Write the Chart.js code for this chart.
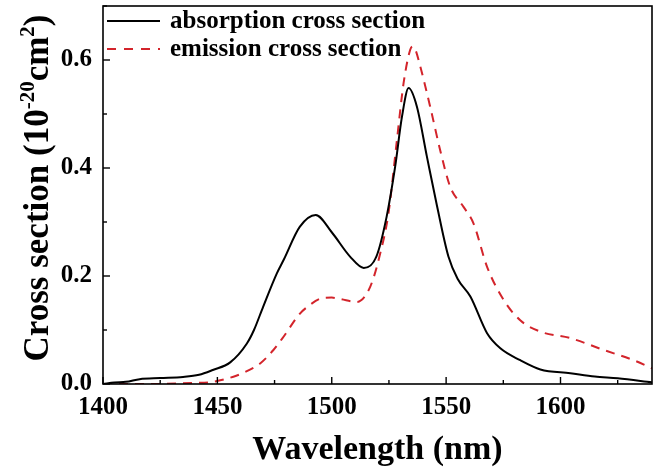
<!DOCTYPE html>
<html>
<head>
<meta charset="utf-8">
<script src="https://cdn.jsdelivr.net/npm/chart.js@4.4.0/dist/chart.umd.min.js"></script>
<style>
  body { margin: 0; background: #fff; }
  #wrap { width: 668px; height: 470px; }
</style>
</head>
<body>
<div id="wrap"><canvas id="chart" width="668" height="470"></canvas></div>
<script>
// wavelength (nm) / cross section (1e-20 cm^2)
const absWavelength = [1400, 1405, 1410, 1416, 1425, 1435, 1442, 1448, 1455.6, 1462.9, 1466, 1470, 1476, 1479, 1486, 1493, 1500, 1508, 1514, 1519.5, 1524, 1527.7, 1530.7, 1533.6, 1537.2, 1541.6, 1546, 1551, 1555, 1560.6, 1567.9, 1573.7, 1582.4, 1591.2, 1604.3, 1615, 1625, 1640];
const absValues = [0, 0.003, 0.004, 0.009, 0.011, 0.013, 0.017, 0.026, 0.040, 0.075, 0.10, 0.143, 0.205, 0.23, 0.291, 0.313, 0.281, 0.236, 0.215, 0.236, 0.31, 0.402, 0.495, 0.548, 0.514, 0.421, 0.33, 0.236, 0.195, 0.162, 0.094, 0.066, 0.044, 0.027, 0.020, 0.014, 0.0105, 0.003];

const emWavelength = [1400, 1420, 1440, 1448, 1457, 1461, 1468.7, 1474.5, 1479, 1486, 1490, 1495, 1500, 1504, 1511, 1516.8, 1521.2, 1524.8, 1528.5, 1531.4, 1534.3, 1535.5, 1536.5, 1538.7, 1543, 1547.4, 1551.8, 1557.6, 1562, 1567.9, 1575.1, 1582.4, 1591.2, 1604.3, 1618.9, 1632, 1640];
const emValues = [0, 0, 0.002, 0.004, 0.0135, 0.02, 0.038, 0.063, 0.088, 0.13, 0.145, 0.158, 0.160, 0.157, 0.152, 0.18, 0.242, 0.316, 0.452, 0.557, 0.619, 0.625, 0.62, 0.588, 0.514, 0.433, 0.365, 0.328, 0.297, 0.217, 0.156, 0.118, 0.097, 0.085, 0.063, 0.044, 0.029];

const seriesNames = ['absorption cross section', 'emission cross section'];
const xTicks = [1400, 1450, 1500, 1550, 1600];
const yTicks = [0.0, 0.2, 0.4, 0.6];

const serif = "'Liberation Serif', 'Times New Roman', serif";
const red = '#d3242b';

const toPoints = (xs, ys) => xs.map((x, i) => ({ x: x, y: ys[i] }));

// frame, inward ticks, y title with superscripts, legend inside the plot
const decorations = {
  id: 'decorations',
  afterDraw(chart) {
    const ctx = chart.ctx;
    const area = chart.chartArea;
    const xs = chart.scales.x;
    const ys = chart.scales.y;
    ctx.save();
    ctx.strokeStyle = '#000';
    ctx.lineWidth = 1.6;
    ctx.strokeRect(area.left, area.top, area.right - area.left, area.bottom - area.top);

    ctx.lineWidth = 1.4;
    for (let v = 1400; v <= 1640; v += 25) {
      const px = xs.getPixelForValue(v);
      const len = v % 50 === 0 ? 7 : 4;
      ctx.beginPath();
      ctx.moveTo(px, area.bottom);
      ctx.lineTo(px, area.bottom - len);
      ctx.stroke();
    }
    for (let k = 0; k <= 7; k++) {
      const py = ys.getPixelForValue(k / 10);
      const len = k % 2 === 0 ? 7 : 4;
      ctx.beginPath();
      ctx.moveTo(area.left, py);
      ctx.lineTo(area.left + len, py);
      ctx.stroke();
    }

    // y axis title
    const big = 'bold 35px ' + serif;
    const small = 'bold 21px ' + serif;
    const parts = [
      { t: 'Cross section (10', f: big, dy: 0 },
      { t: '-20', f: small, dy: -14 },
      { t: 'cm', f: big, dy: 0 },
      { t: '2', f: small, dy: -14 },
      { t: ')', f: big, dy: 0 }
    ];
    let total = 0;
    parts.forEach(p => { ctx.font = p.f; p.w = ctx.measureText(p.t).width; total += p.w; });
    ctx.translate(48, 188);
    ctx.rotate(-Math.PI / 2);
    ctx.fillStyle = '#000';
    ctx.textBaseline = 'alphabetic';
    ctx.textAlign = 'left';
    let cx = -total / 2;
    parts.forEach(p => { ctx.font = p.f; ctx.fillText(p.t, cx, p.dy); cx += p.w; });
    ctx.setTransform(1, 0, 0, 1, 0, 0);

    // legend
    const items = [
      { name: seriesNames[0], color: '#000', dash: [], y: 21, base: 28 },
      { name: seriesNames[1], color: red, dash: [9, 8], y: 49, base: 56 }
    ];
    ctx.font = 'bold 25px ' + serif;
    items.forEach(it => {
      ctx.strokeStyle = it.color;
      ctx.lineWidth = 2;
      ctx.setLineDash(it.dash);
      ctx.beginPath();
      ctx.moveTo(area.left + 4, it.y);
      ctx.lineTo(area.left + 57, it.y);
      ctx.stroke();
      ctx.setLineDash([]);
      ctx.fillStyle = '#000';
      ctx.fillText(it.name, area.left + 67, it.base);
    });
    ctx.restore();
  }
};

new Chart(document.getElementById('chart'), {
  type: 'line',
  data: {
    datasets: [
      {
        label: seriesNames[0],
        data: toPoints(absWavelength, absValues),
        borderColor: '#000',
        borderWidth: 2,
        pointRadius: 0,
        cubicInterpolationMode: 'monotone'
      },
      {
        label: seriesNames[1],
        data: toPoints(emWavelength, emValues),
        borderColor: red,
        borderWidth: 2,
        borderDash: [9, 7],
        pointRadius: 0,
        cubicInterpolationMode: 'monotone'
      }
    ]
  },
  options: {
    responsive: false,
    animation: false,
    layout: { padding: { left: 0, right: 16, top: 6, bottom: 0 } },
    plugins: {
      legend: { display: false },
      tooltip: { enabled: false }
    },
    scales: {
      x: {
        type: 'linear',
        min: 1400,
        max: 1640,
        grid: { display: false, drawTicks: false },
        border: { display: false },
        afterFit: s => { s.height = 86; s.paddingLeft = 0; s.paddingRight = 0; },
        afterBuildTicks: s => { s.ticks = xTicks.map(v => ({ value: v })); },
        ticks: {
          padding: 9,
          color: '#000',
          font: { family: serif, size: 25, weight: 'bold' },
          callback: v => String(v)
        },
        title: {
          display: true,
          text: 'Wavelength (nm)',
          color: '#000',
          font: { family: serif, size: 34, weight: 'bold' },
          padding: { top: 4, bottom: -1 }
        }
      },
      y: {
        min: 0,
        max: 0.7,
        grid: { display: false, drawTicks: false },
        border: { display: false },
        afterFit: s => { s.width = 103; s.paddingTop = 0; s.paddingBottom = 0; },
        afterBuildTicks: s => { s.ticks = yTicks.map(v => ({ value: v })); },
        ticks: {
          padding: 11,
          color: '#000',
          font: { family: serif, size: 25, weight: 'bold' },
          callback: v => Number(v).toFixed(1)
        }
      }
    }
  },
  plugins: [decorations]
});
</script>
</body>
</html>
